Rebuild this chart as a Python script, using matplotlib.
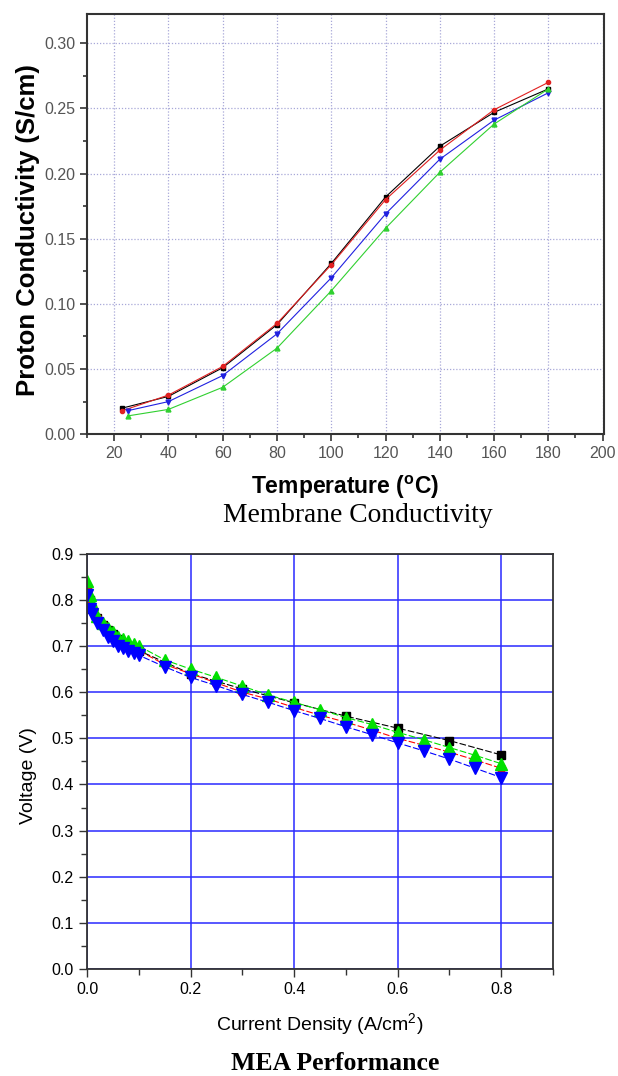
import numpy as np
import matplotlib
matplotlib.use('Agg')
import matplotlib.pyplot as plt
from matplotlib.ticker import MultipleLocator, FormatStrFormatter

plt.rcParams['font.family'] = ['Liberation Sans', 'DejaVu Sans']
plt.rcParams['mathtext.fontset'] = 'custom'
plt.rcParams['mathtext.rm'] = 'Liberation Sans'
plt.rcParams['mathtext.bf'] = 'Liberation Sans:bold'

# 膜电导率数据 (温度 °C -> 质子电导率 S/cm)
temp_a = [23, 40, 60, 80, 100, 120, 140, 160, 180]
temp_b = [25, 40, 60, 80, 100, 120, 140, 160, 180]
cond_black = [0.020, 0.029, 0.051, 0.084, 0.131, 0.182, 0.221, 0.247, 0.265]
cond_red = [0.018, 0.030, 0.052, 0.085, 0.130, 0.180, 0.218, 0.249, 0.270]
cond_blue = [0.018, 0.025, 0.045, 0.077, 0.120, 0.169, 0.211, 0.241, 0.262]
cond_green = [0.014, 0.019, 0.036, 0.066, 0.110, 0.158, 0.201, 0.238, 0.265]

# MEA 极化曲线数据 (电流密度 A/cm2 -> 电压 V)
current = [0.0, 0.005, 0.01, 0.02, 0.03, 0.04, 0.05, 0.06, 0.07, 0.08, 0.09, 0.10,
           0.15, 0.20, 0.25, 0.30, 0.35, 0.40, 0.45, 0.50, 0.55, 0.60, 0.65, 0.70, 0.75, 0.80]
current_black = [0.0, 0.005, 0.01, 0.02, 0.03, 0.04, 0.05, 0.06, 0.07, 0.08, 0.09, 0.10,
                 0.20, 0.30, 0.40, 0.50, 0.60, 0.70, 0.80]
volt_black = [0.82, 0.80, 0.78, 0.76, 0.745, 0.735, 0.725, 0.715, 0.705, 0.700, 0.695, 0.690,
              0.640, 0.607, 0.577, 0.548, 0.522, 0.495, 0.464]
volt_red = [0.83, 0.80, 0.78, 0.76, 0.745, 0.730, 0.720, 0.710, 0.705, 0.700, 0.695, 0.690,
            0.660, 0.640, 0.620, 0.600, 0.585, 0.567, 0.550, 0.535, 0.518, 0.500, 0.485, 0.470, 0.453, 0.435]
volt_green = [0.84, 0.81, 0.79, 0.765, 0.750, 0.740, 0.730, 0.720, 0.715, 0.710, 0.705, 0.700,
              0.670, 0.650, 0.632, 0.613, 0.594, 0.578, 0.562, 0.545, 0.530, 0.513, 0.497, 0.480, 0.463, 0.445]
volt_blue = [0.81, 0.78, 0.77, 0.750, 0.735, 0.720, 0.710, 0.700, 0.695, 0.690, 0.685, 0.680,
             0.655, 0.632, 0.614, 0.595, 0.578, 0.560, 0.543, 0.525, 0.508, 0.490, 0.473, 0.455, 0.435, 0.415]

fig = plt.figure(figsize=(6.18, 10.76), dpi=100)

# ---- 上图：膜电导率 ----
ax1 = fig.add_axes([0.1408, 0.5965, 0.8365, 0.3905])
ax1.plot(temp_a, cond_black, color='black', marker='s', ms=3, lw=0.8)
ax1.plot(temp_a, cond_red, color='#e02020', marker='o', ms=3, lw=0.8)
ax1.plot(temp_b, cond_blue, color='#2020e0', marker='v', ms=3.5, lw=0.8)
ax1.plot(temp_b, cond_green, color='#30d030', marker='^', ms=3.5, lw=0.8)
ax1.set_xlim(10, 200.5)
ax1.set_ylim(0, 0.3225)
ax1.set_xticks(range(20, 201, 20))
ax1.xaxis.set_minor_locator(MultipleLocator(10))
ax1.yaxis.set_major_locator(MultipleLocator(0.05))
ax1.yaxis.set_minor_locator(MultipleLocator(0.025))
ax1.yaxis.set_major_formatter(FormatStrFormatter('%.2f'))
ax1.grid(True, which='major', color='#a8a8d8', ls=(0, (1, 1.5)), lw=0.9)
ax1.tick_params(which='both', direction='out', colors='#333333', labelsize=11.5,
                labelcolor='#555555', width=1.2)
ax1.tick_params(which='major', length=5)
ax1.tick_params(which='minor', length=3)
for s in ax1.spines.values():
    s.set_linewidth(1.5)
    s.set_color('#333333')
ax1.set_ylabel('Proton Conductivity (S/cm)', fontsize=18.5, fontweight='bold')
ax1.yaxis.set_label_coords(-0.09, 0.485)
ax1.set_xlabel(r'Temperature ($^{\mathbf{o}}$C)', fontsize=16.5, fontweight='bold', labelpad=9)
fig.text(0.579, 0.5205, 'Membrane Conductivity', ha='center', va='center',
         fontsize=19.8, family='Liberation Serif')

# ---- 下图：MEA 性能 ----
ax2 = fig.add_axes([0.1408, 0.0994, 0.7540, 0.3860])
ax2.grid(True, which='major', color='#2a2aff', lw=1.1)
ax2.set_axisbelow(True)
ax2.plot(current_black, volt_black, color='black', marker='s', ms=6, lw=0.8, ls=(0, (6, 2)))
ax2.plot(current, volt_red, color='red', marker='o', ms=6, lw=0.8, ls=(0, (6, 2)))
ax2.plot(current, volt_green, color='#00e000', marker='^', ms=8, lw=0.8, ls=(0, (6, 2)))
ax2.plot(current, volt_blue, color='#0000ff', marker='v', ms=8, lw=0.8, ls=(0, (6, 2)))
ax2.set_xlim(0, 0.9)
ax2.set_ylim(0, 0.9)
ax2.set_xticks([0.0, 0.2, 0.4, 0.6, 0.8])
ax2.xaxis.set_minor_locator(MultipleLocator(0.1))
ax2.yaxis.set_major_locator(MultipleLocator(0.1))
ax2.yaxis.set_minor_locator(MultipleLocator(0.05))
ax2.xaxis.set_major_formatter(FormatStrFormatter('%.1f'))
ax2.yaxis.set_major_formatter(FormatStrFormatter('%.1f'))
ax2.tick_params(which='both', direction='out', labelsize=11.5, width=1.0, color='#333333')
ax2.tick_params(which='major', length=6)
ax2.tick_params(which='minor', length=4)
for s in ax2.spines.values():
    s.set_linewidth(1.3)
    s.set_color('#333333')
ax2.set_ylabel('Voltage (V)', fontsize=14)
ax2.yaxis.set_label_coords(-0.108, 0.467)
ax2.set_xlabel(r'Current Density (A/cm$^{\mathregular{2}}$)', fontsize=14, labelpad=10)
fig.text(0.542, 0.012, 'MEA Performance', ha='center', va='center',
         fontsize=18.5, fontweight='bold', family='Liberation Serif')

fig.savefig('out.png', dpi=100)
